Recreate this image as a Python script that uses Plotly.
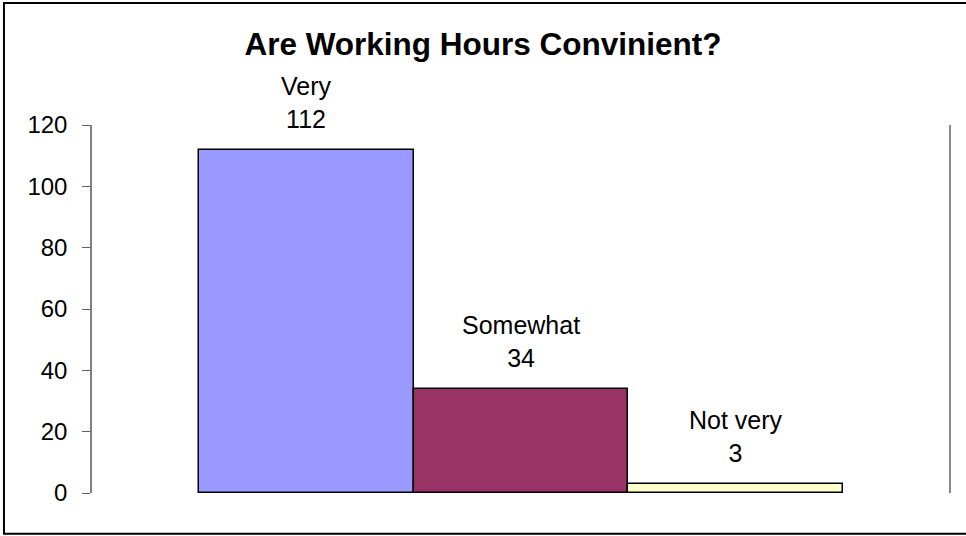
import plotly.graph_objects as go

categories = ['Very', 'Somewhat', 'Not very']
counts = [112, 34, 3]
bar_colors = ['#9999FF', '#993366', '#FFFFCC']
y_ticks = [0, 20, 40, 60, 80, 100, 120]

font = 'Liberation Sans, Arial, sans-serif'

fig = go.Figure()
fig.add_trace(go.Bar(x=categories, y=counts, marker_color=bar_colors,
                     marker_line_color='black', marker_line_width=1.5,
                     showlegend=False, hoverinfo='skip'))

for cat, val in zip(categories, counts):
    fig.add_annotation(x=cat, y=val, text=f'{cat}<br>{val}', showarrow=False,
                       yanchor='bottom', yshift=15,
                       font=dict(family=font, size=25, color='black'))

# chart frame and right-hand plot edge
fig.add_shape(type='rect', xref='paper', yref='paper', x0=-0.1026, x1=1.2,
              y0=-0.111, y1=1.3315, line=dict(color='black', width=2))
fig.add_shape(type='line', xref='paper', yref='paper', x0=1, x1=1, y0=0, y1=1,
              line=dict(color='#606060', width=1.5))

fig.update_layout(
    width=966, height=536,
    margin=dict(l=92, r=16, t=125, b=43),
    paper_bgcolor='white', plot_bgcolor='white',
    bargap=0,
    title=dict(text='<b>Are Working Hours Convinient?</b>', x=0.5, xanchor='center',
               y=1 - 44 / 536, yanchor='middle', yref='container',
               font=dict(family=font, size=31.5, color='black')),
    font=dict(family=font, color='black'),
)
fig.update_xaxes(range=[-1, 3], showticklabels=False, showline=False,
                 showgrid=False, zeroline=False, ticks='')
fig.update_yaxes(range=[0, 120], tickvals=y_ticks, ticks='outside', ticklen=8,
                 tickcolor='#606060', showline=True, linecolor='#808080', linewidth=1.5,
                 showgrid=False, zeroline=False, ticklabelstandoff=10,
                 tickfont=dict(family=font, size=24, color='black'))

fig.write_html('out.html', config={'displayModeBar': False},
               post_script="document.body.style.margin='0';")
